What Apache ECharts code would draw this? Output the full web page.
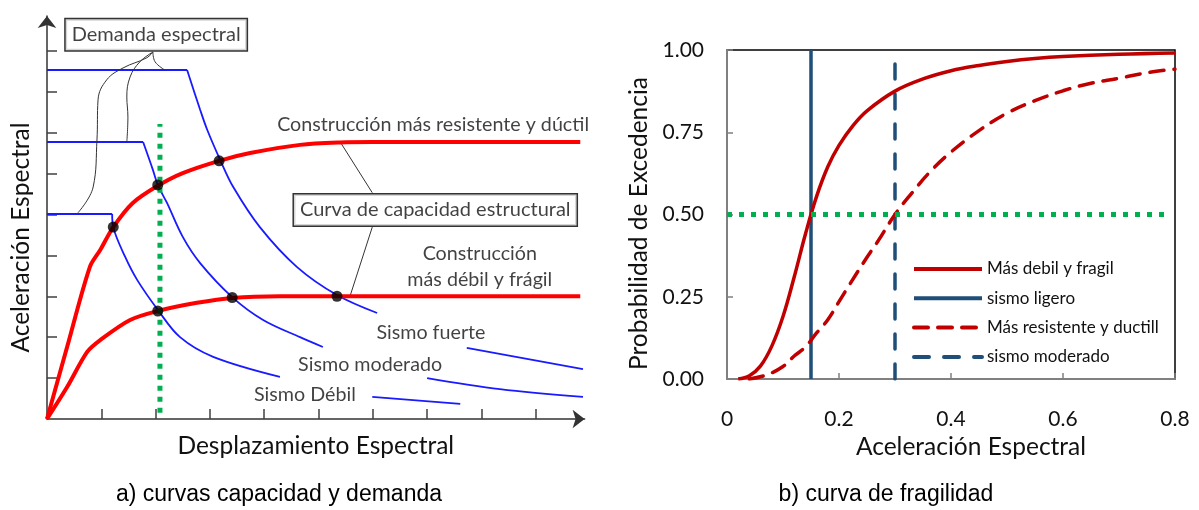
<!DOCTYPE html>
<html>
<head>
<meta charset="utf-8">
<script src="https://cdn.jsdelivr.net/npm/echarts@6/dist/echarts.min.js"></script>
<style>
html, body { margin: 0; padding: 0; background: #fff; }
#chartmain { width: 1199px; height: 510px; }
</style>
</head>
<body>
<div id="chartmain"></div>
<script>
// a) curvas capacidad y demanda (esquema, unidades arbitrarias)
var capResistente = [[0,0],[0.37,1.76],[0.79,3.72],[0.98,4.13],[1.22,4.69],[1.58,5.28],[2.04,5.7],[2.5,6.01],[3.17,6.31],[3.74,6.5],[4.66,6.7],[5.4,6.76],[6.0,6.77],[9.82,6.77]];
var capFragil = [[0,0],[0.37,0.78],[0.74,1.64],[0.98,1.93],[1.53,2.42],[2.04,2.64],[2.76,2.84],[3.41,2.96],[4.29,3.0],[9.82,3.0]];

var debilMeseta = [[0,5.01],[1.2,5.01]];
var debil = [[1.2,5.01],[1.22,4.69],[1.44,3.96],[1.66,3.4],[2.04,2.67],[2.45,2.0],[3.06,1.52],[4.29,1.03],[5.1,null],[5.99,0.54],[7.61,0.37]];
var moderadoMeseta = [[0,6.77],[1.77,6.77]];
var moderado = [[1.77,6.77],[1.95,6.09],[2.04,5.72],[2.21,5.28],[2.5,4.45],[2.82,3.81],[3.41,2.98],[3.98,2.42],[4.66,2.0],[5.08,1.76],[6.0,null],[7.0,1.0],[8.34,0.73],[9.87,0.54]];
var fuerteMeseta = [[0,8.53],[2.58,8.53]];
var fuerte = [[2.58,8.53],[2.82,7.56],[2.95,7.07],[3.19,6.33],[3.43,5.67],[3.92,4.69],[4.6,3.72],[5.34,3.03],[6.08,2.59],[7.0,null],[7.73,1.74],[9.87,1.22]];

var puntosDesempeno = [[1.22,4.69],[2.04,5.72],[3.17,6.31],[2.04,2.64],[3.41,2.97],[5.34,3.0]];
var lineaVerde = [[2.08,0.15],[2.08,7.21]];

var guia1 = [[1.95,8.97],[1.84,8.83],[1.4,8.58],[1.1,8.29],[0.94,7.8],[0.92,6.82],[0.85,5.67],[0.57,5.04]];
var guia2 = [[1.95,8.97],[1.71,8.73],[1.53,8.36],[1.47,7.87],[1.49,7.38],[1.47,6.77]];
var guia3 = [[1.95,8.97],[1.99,8.73],[2.17,8.53]];
var guia4 = [[5.99,5.53],[5.4,6.77]];
var guia5 = [[5.99,4.69],[5.58,3.0]];

var notasCaja = [
    {name: 'Demanda espectral', value: [2.01, 9.39]},
    {name: 'Curva de capacidad estructural', value: [7.15, 5.11]}
];
var notas = [
    {name: 'Construcción más resistente y dúctil', value: [7.11, 7.19]},
    {name: 'Construcción\nmás débil y frágil', value: [7.97, 3.72]},
    {name: 'Sismo fuerte', value: [7.07, 2.10]},
    {name: 'Sismo moderado', value: [5.95, 1.32]},
    {name: 'Sismo Débil', value: [4.75, 0.59]}
];
var ticksA = [1,2,3,4,5,6,7,8,9];

// b) curva de fragilidad
var acelFragil = [0.02,0.04,0.06,0.08,0.10,0.12,0.14,0.16,0.18,0.20,0.225,0.25,0.30,0.35,0.40,0.45,0.50,0.55,0.60,0.70,0.80];
var pFragil = [0.0,0.01,0.04,0.10,0.19,0.31,0.44,0.555,0.645,0.71,0.77,0.815,0.875,0.912,0.937,0.953,0.965,0.974,0.980,0.987,0.991];
var acelDuctil = [0.04,0.07,0.10,0.12,0.14,0.16,0.18,0.20,0.22,0.25,0.27,0.30,0.33,0.36,0.40,0.45,0.50,0.55,0.60,0.65,0.70,0.75,0.80];
var pDuctil = [0.0,0.012,0.038,0.07,0.097,0.14,0.18,0.235,0.29,0.37,0.42,0.50,0.565,0.625,0.69,0.755,0.808,0.846,0.876,0.899,0.914,0.931,0.942];
var sismoLigero = 0.15;
var sismoModerado = 0.30;
var umbral = 0.5;

function pares(xs, ys) {
    return xs.map(function (x, i) { return [x, ys[i]]; });
}

var fontTxt = 'Lato';
var rojo = '#ff0000', azul = '#1a1aff', verde = '#00b050';
var rojoB = '#c00000', azulB = '#1f4e79';

function curvaA(data, color, width, smooth, z) {
    return {
        type: 'line', xAxisIndex: 0, yAxisIndex: 0, data: data,
        smooth: smooth, symbol: 'none', silent: true, z: z,
        lineStyle: {color: color, width: width}
    };
}

var series = [
    curvaA(debilMeseta, azul, 1.8, false, 2),
    curvaA(debil, azul, 1.8, 0.35, 2),
    curvaA(moderadoMeseta, azul, 1.8, false, 2),
    curvaA(moderado, azul, 1.8, 0.35, 2),
    curvaA(fuerteMeseta, azul, 1.8, false, 2),
    curvaA(fuerte, azul, 1.8, 0.35, 2),
    curvaA(guia1, '#333', 1, 0.4, 2),
    curvaA(guia2, '#333', 1, 0.4, 2),
    curvaA(guia3, '#333', 1, 0.4, 2),
    curvaA(guia4, '#333', 1, false, 2),
    curvaA(guia5, '#333', 1, false, 2),
    curvaA(capResistente, rojo, 4, 0.3, 3),
    curvaA(capFragil, rojo, 4, 0.3, 3),
    {
        type: 'line', xAxisIndex: 0, yAxisIndex: 0, data: lineaVerde,
        symbol: 'none', silent: true, z: 4,
        lineStyle: {color: verde, width: 5, type: [5, 6]}
    },
    {
        type: 'scatter', xAxisIndex: 0, yAxisIndex: 0, data: puntosDesempeno,
        symbolSize: 11, silent: true, z: 5,
        itemStyle: {color: '#000'}
    },
    {
        type: 'scatter', xAxisIndex: 0, yAxisIndex: 0, data: notasCaja,
        symbolSize: 1, silent: true, z: 6, clip: false,
        itemStyle: {color: 'rgba(0,0,0,0)'},
        label: {
            show: true, position: 'inside', formatter: '{b}',
            fontFamily: fontTxt, fontSize: 20, color: '#111',
            backgroundColor: '#fff', borderColor: '#000', borderWidth: 1.5,
            padding: [6, 6, 5, 6]
        }
    },
    {
        type: 'scatter', xAxisIndex: 0, yAxisIndex: 0, data: notas,
        symbolSize: 1, silent: true, z: 6, clip: false,
        itemStyle: {color: 'rgba(0,0,0,0)'},
        label: {
            show: true, position: 'inside', formatter: '{b}',
            fontFamily: fontTxt, fontSize: 19.7, color: '#111', lineHeight: 26
        }
    },
    // panel b
    {
        name: 'Más debil y fragil', type: 'line', xAxisIndex: 1, yAxisIndex: 1,
        data: pares(acelFragil, pFragil), smooth: 0.4, symbol: 'none', z: 4,
        lineStyle: {color: rojoB, width: 3.5}, itemStyle: {color: rojoB}
    },
    {
        name: 'sismo ligero', type: 'line', xAxisIndex: 1, yAxisIndex: 1,
        data: [[sismoLigero, 0], [sismoLigero, 1]], symbol: 'none', z: 3,
        lineStyle: {color: azulB, width: 3.5}, itemStyle: {color: azulB}
    },
    {
        name: 'Más resistente y ductill', type: 'line', xAxisIndex: 1, yAxisIndex: 1,
        data: pares(acelDuctil, pDuctil), smooth: 0.4, symbol: 'none', z: 4,
        lineStyle: {color: rojoB, width: 3.5, type: [14, 10], cap: 'round'}, itemStyle: {color: rojoB}
    },
    {
        name: 'sismo moderado', type: 'line', xAxisIndex: 1, yAxisIndex: 1,
        data: [[sismoModerado, 0], [sismoModerado, 1]], symbol: 'none', z: 3,
        lineStyle: {color: azulB, width: 3.5, type: [15, 15], cap: 'round'}, itemStyle: {color: azulB}
    },
    {
        type: 'line', xAxisIndex: 1, yAxisIndex: 1,
        data: [[0, umbral], [0.782, umbral]], symbol: 'none', z: 5, silent: true,
        lineStyle: {color: verde, width: 5, type: [5, 7]}
    }
];

var option = {
    animation: false,
    textStyle: {fontFamily: fontTxt},
    grid: [
        {left: 47, top: 16, width: 537.6, height: 403},
        {left: 727, top: 50, width: 448, height: 329, show: true, borderColor: '#000', borderWidth: 1.5}
    ],
    xAxis: [{
        gridIndex: 0, type: 'value', min: 0, max: 9.9,
        name: 'Desplazamiento Espectral', nameLocation: 'middle', nameGap: 15,
        nameTextStyle: {fontFamily: fontTxt, fontSize: 24.5, color: '#111'},
        axisLine: {show: true, symbol: ['none', 'arrow'], symbolSize: [14, 12], lineStyle: {color: '#333', width: 1.5}},
        axisTick: {show: true, inside: true, length: 10, customValues: ticksA, lineStyle: {color: '#404040', width: 1.5}},
        axisLabel: {show: false},
        splitLine: {show: false}
    }, {
        gridIndex: 1, type: 'value', min: 0, max: 0.8, interval: 0.2,
        name: 'Aceleración Espectral', nameLocation: 'middle', nameGap: 51,
        nameTextStyle: {fontFamily: fontTxt, fontSize: 24.5, color: '#111', padding: [0, 0, 0, 40]},
        axisLine: {show: true, lineStyle: {color: '#808080', width: 2}},
        axisTick: {show: true, inside: true, length: 6, lineStyle: {color: '#808080', width: 1.5}},
        axisLabel: {margin: 30, fontFamily: fontTxt, fontSize: 21, color: '#111'},
        splitLine: {show: false}
    }],
    yAxis: [{
        gridIndex: 0, type: 'value', min: 0, max: 9.85,
        name: 'Aceleración Espectral', nameLocation: 'middle', nameGap: 13,
        nameTextStyle: {fontFamily: fontTxt, fontSize: 24.5, color: '#111', padding: [0, 40, 0, 0]},
        axisLine: {show: true, symbol: ['none', 'arrow'], symbolSize: [14, 12], lineStyle: {color: '#333', width: 1.5}},
        axisTick: {show: true, inside: true, length: 10, customValues: ticksA, lineStyle: {color: '#404040', width: 1.5}},
        axisLabel: {show: false},
        splitLine: {show: false}
    }, {
        gridIndex: 1, type: 'value', min: 0, max: 1, interval: 0.25,
        name: 'Probabilidad de Excedencia', nameLocation: 'middle', nameGap: 75,
        nameTextStyle: {fontFamily: fontTxt, fontSize: 24.5, color: '#111', padding: [0, 18, 0, 0]},
        axisLine: {show: true, lineStyle: {color: '#808080', width: 2}},
        axisTick: {show: true, inside: true, length: 6, lineStyle: {color: '#808080', width: 1.5}},
        axisLabel: {
            margin: 23, fontFamily: fontTxt, fontSize: 21, color: '#111',
            formatter: function (v) { return v.toFixed(2); }
        },
        splitLine: {show: false}
    }],
    legend: {
        data: ['Más debil y fragil', 'sismo ligero', 'Más resistente y ductill', 'sismo moderado'],
        orient: 'vertical', left: 907, top: 255,
        itemWidth: 68, itemHeight: 18, itemGap: 11.3,
        selectedMode: false,
        lineStyle: {width: 4},
        itemStyle: {opacity: 0},
        textStyle: {fontFamily: fontTxt, fontSize: 17, color: '#111', lineHeight: 18}
    },
    graphic: [
        {type: 'text', x: 279, y: 495, style: {text: 'a) curvas capacidad y demanda', fontFamily: 'Liberation Sans', fontSize: 23, fill: '#000', align: 'center', verticalAlign: 'middle'}},
        {type: 'text', x: 886, y: 495, style: {text: 'b) curva de fragilidad', fontFamily: 'Liberation Sans', fontSize: 23, fill: '#000', align: 'center', verticalAlign: 'middle'}}
    ],
    series: series
};

var myChart = echarts.init(document.getElementById('chartmain'));
myChart.setOption(option);
</script>
</body>
</html>
